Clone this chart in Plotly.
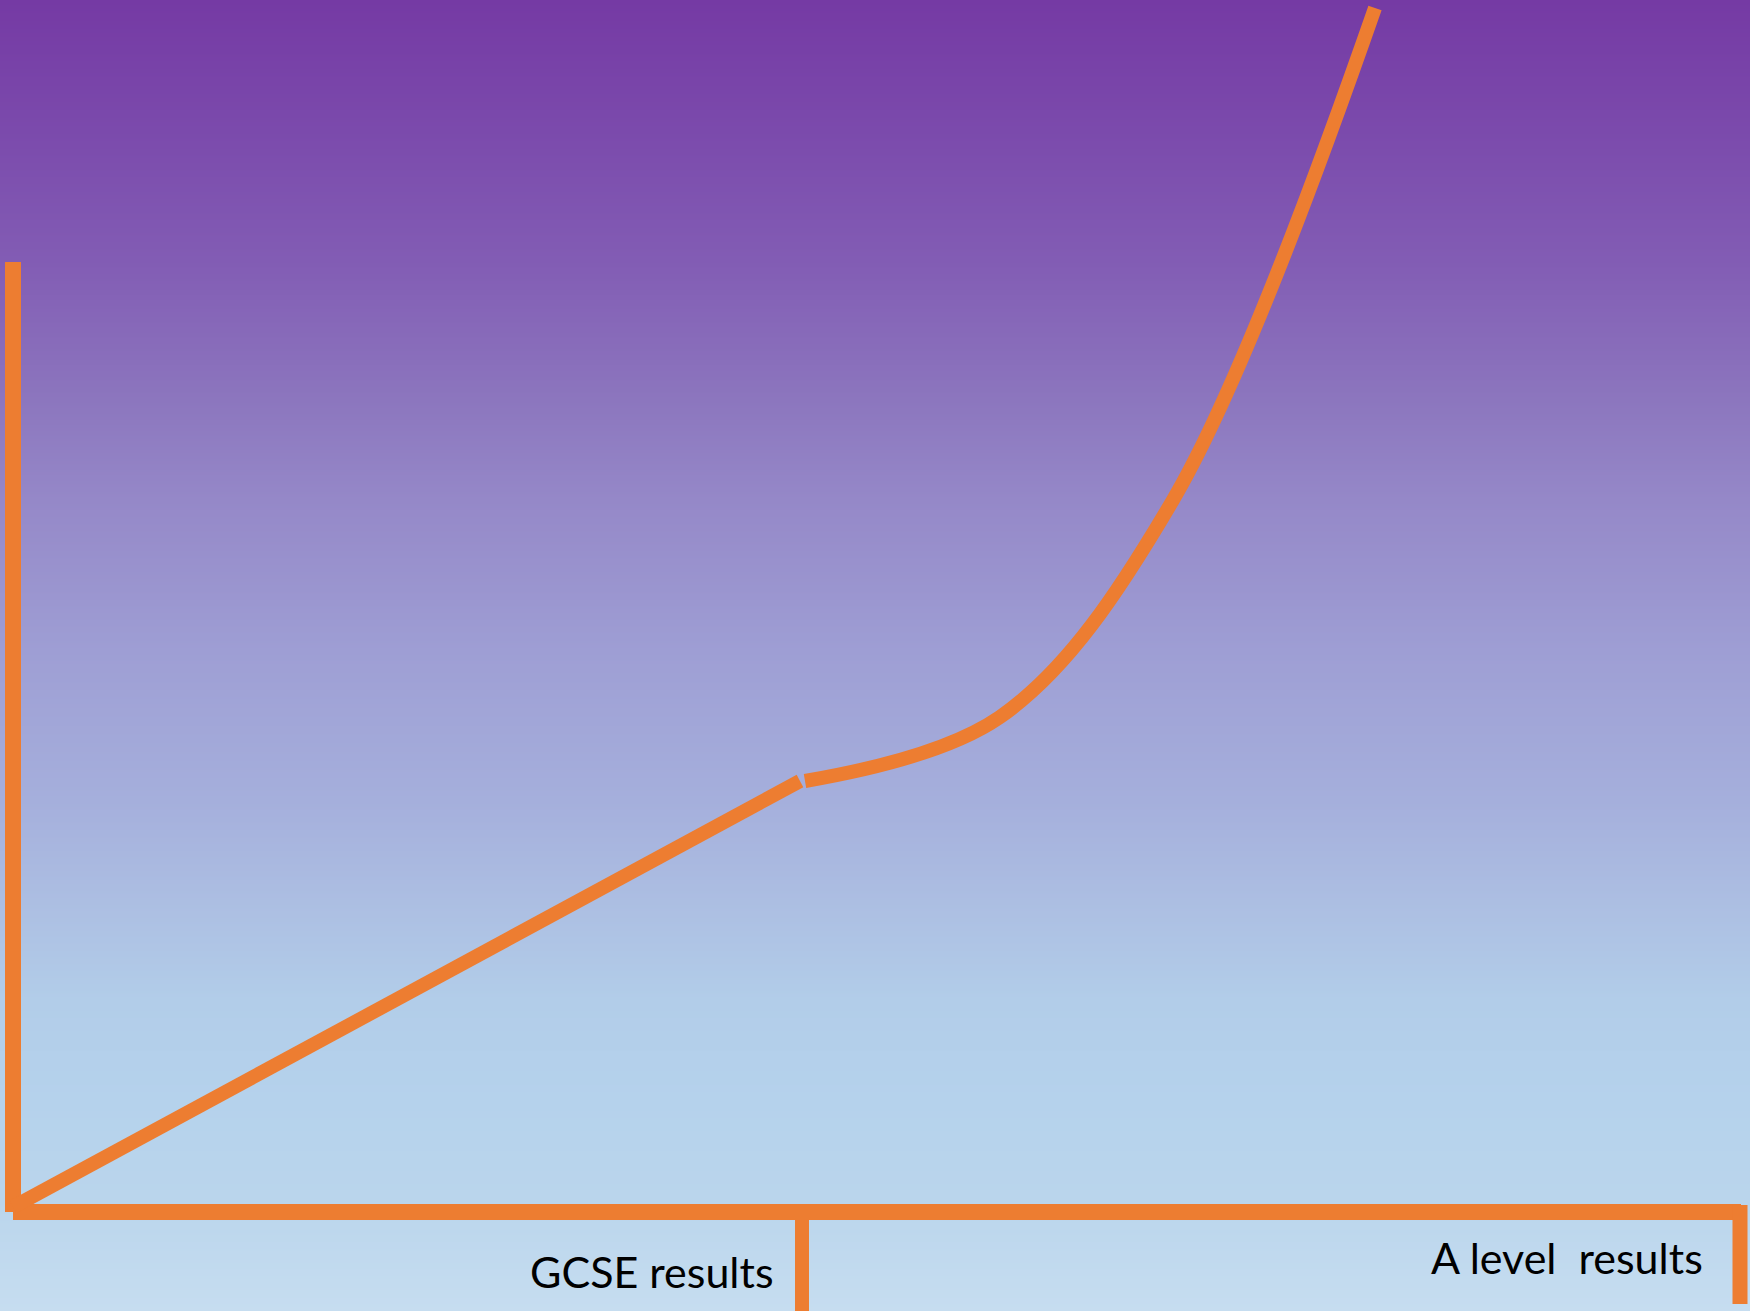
import numpy as np
import plotly.graph_objects as go

# ---- data (abstract units: origin at the corner of the axes) ----
gcse_x = [0, 787]
gcse_y = [5, 431]

alevel_x = [792, 987, 1160, 1362]
alevel_y = [431, 495, 712, 1204]

tick_labels = ["GCSE results", "A level\u00a0 results"]
tick_positions = [789, 1727]

# axis extents
x_axis_end = 1728
y_axis_top = 950

# ---- styling ----
ORANGE = "#ED7D31"
X_RANGE = [-13, 1737]
Y_RANGE = [-99, 1212]

# background gradient stops (fraction of height from bottom, colour)
grad_stops = [
    (0.000, (198, 221, 240)),
    (0.085, (186, 213, 236)),
    (0.160, (181, 210, 236)),
    (0.237, (178, 205, 233)),
    (0.313, (172, 190, 226)),
    (0.390, (165, 175, 220)),
    (0.504, (158, 158, 212)),
    (0.619, (149, 136, 200)),
    (0.695, (140, 118, 190)),
    (0.802, (130, 92, 180)),
    (0.901, (123, 74, 172)),
    (1.000, (117, 58, 164)),
]
colorscale = [[f, "rgb(%d,%d,%d)" % c] for f, c in grad_stops]

fig = go.Figure()

# background gradient as a smooth heatmap covering the whole canvas
bg_y = np.linspace(Y_RANGE[0], Y_RANGE[1], 200)
bg_z = [[v, v] for v in bg_y]
fig.add_trace(go.Heatmap(
    x=X_RANGE, y=bg_y, z=bg_z, colorscale=colorscale,
    zmin=Y_RANGE[0], zmax=Y_RANGE[1], zsmooth="best",
    showscale=False, hoverinfo="skip",
))

# axes drawn as thick orange bars
fig.add_trace(go.Scatter(x=[0, 0], y=[0, y_axis_top], mode="lines",
                         line=dict(color=ORANGE, width=16), hoverinfo="skip"))
fig.add_trace(go.Scatter(x=[0, x_axis_end], y=[0, 0], mode="lines",
                         line=dict(color=ORANGE, width=16), hoverinfo="skip"))
fig.add_trace(go.Scatter(x=[tick_positions[0]] * 2, y=[-8, Y_RANGE[0]], mode="lines",
                         line=dict(color=ORANGE, width=14), hoverinfo="skip"))
fig.add_trace(go.Scatter(x=[tick_positions[1]] * 2, y=[7, -92], mode="lines",
                         line=dict(color=ORANGE, width=15), hoverinfo="skip"))

# progress lines
fig.add_trace(go.Scatter(x=gcse_x, y=gcse_y, mode="lines",
                         line=dict(color=ORANGE, width=14), hoverinfo="skip"))
fig.add_trace(go.Scatter(x=alevel_x, y=alevel_y, mode="lines",
                         line=dict(color=ORANGE, width=14, shape="spline", smoothing=1.0),
                         hoverinfo="skip"))

# labels
fig.add_annotation(x=763, y=-59, text=tick_labels[0], showarrow=False,
                   xanchor="right", yanchor="middle",
                   font=dict(family="Lato", size=43, color="black"))
fig.add_annotation(x=1692, y=-45, text=tick_labels[1], showarrow=False,
                   xanchor="right", yanchor="middle",
                   font=dict(family="Lato", size=43, color="black"))

fig.update_layout(
    width=1750, height=1311,
    margin=dict(l=0, r=0, t=0, b=0),
    showlegend=False,
    paper_bgcolor="#C6DDF0",
    plot_bgcolor="rgba(0,0,0,0)",
    xaxis=dict(range=X_RANGE, visible=False, fixedrange=True),
    yaxis=dict(range=Y_RANGE, visible=False, fixedrange=True),
)

fig.write_html(
    "out.html",
    config={"displayModeBar": False},
    post_script="document.body.style.margin='0';document.body.style.overflow='hidden';",
)
